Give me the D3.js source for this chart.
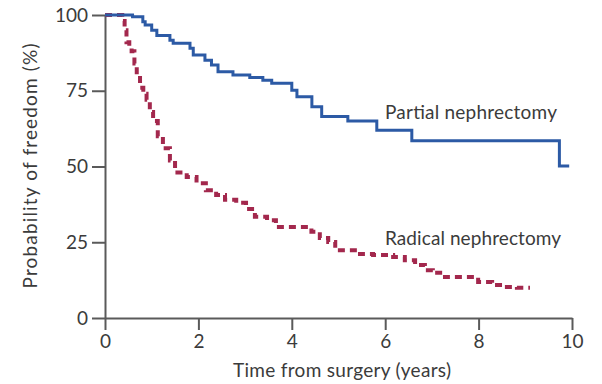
<!DOCTYPE html>
<html lang="en">
<head>
<meta charset="UTF-8">
<title>Freedom from CKD</title>
<script src="https://d3js.org/d3.v7.min.js"></script>
<style>
  body { margin: 0; background: #fff; }
  text { font-family: Lato, "Open Sans", sans-serif; fill: #3b3b3b; }
</style>
</head>
<body>
<script>
// Kaplan-Meier steps (years, %)
const partialTimes  = [0, 0.59, 0.81, 0.86, 1.00, 1.11, 1.39, 1.46, 1.82, 1.89, 2.14, 2.28, 2.42, 2.74, 3.10, 3.38, 3.57, 4.00, 4.11, 4.43, 4.64, 5.20, 5.82, 6.57, 9.73, 9.94];
const partialValues = [100, 99.4, 97.8, 96.7, 95.0, 93.2, 91.7, 90.7, 89.0, 86.8, 85.1, 83.5, 81.3, 80.2, 79.4, 78.5, 77.5, 75.2, 73.0, 69.7, 66.5, 65.0, 62.0, 58.5, 50.2, 50.2];

const radicalTimes  = [0, 0.37, 0.42, 0.46, 0.52, 0.57, 0.63, 0.68, 0.75, 0.82, 0.89, 0.96, 1.03, 1.13, 1.24, 1.39, 1.50, 1.75, 1.96, 2.16, 2.38, 2.57, 2.81, 3.02, 3.21, 3.47, 3.66, 4.42, 4.60, 4.78, 4.93, 5.46, 5.74, 6.17, 6.42, 6.64, 6.85, 7.02, 7.28, 7.99, 8.29, 8.52, 8.82, 9.10];
const radicalValues = [100, 98, 95, 91, 89.5, 88, 84, 80, 76, 74, 72, 68, 65, 60, 56, 52, 48, 46.5, 44.5, 42.2, 40.6, 39, 38, 36, 33.4, 32.3, 30, 28.5, 26.4, 25.1, 22.4, 21.1, 20.8, 20.1, 19.1, 17.5, 15.8, 14.9, 13.5, 11.9, 10.9, 10.2, 10.0, 10.0];

const xTicks = [0, 2, 4, 6, 8, 10];
const yTicks = [0, 25, 50, 75, 100];
const seriesLabels = ["Partial nephrectomy", "Radical nephrectomy"];

const w = 602, h = 384;
const svg = d3.select('body').append('svg').attr('width', w).attr('height', h);

const x = d3.scaleLinear().domain([0, 10]).range([105, 572]);
const y = d3.scaleLinear().domain([0, 100]).range([318, 15]);

// axes
const xAxis = svg.append('g').attr('transform', `translate(0,${y(0)})`)
  .call(d3.axisBottom(x).tickValues(xTicks).tickSize(12).tickSizeOuter(0).tickPadding(5));
const yAxis = svg.append('g').attr('transform', `translate(${x(0)},0)`)
  .call(d3.axisLeft(y).tickValues(yTicks).tickSize(13).tickSizeOuter(0).tickPadding(4));

[xAxis, yAxis].forEach(g => {
  g.selectAll('path, line').attr('stroke', '#5a5a5a').attr('stroke-width', 2);
  g.selectAll('text').style('font-size', '19px').attr('fill', '#3b3b3b')
    .style('font-family', 'Lato, sans-serif');
});

const line = d3.line().x(d => x(d[0])).y(d => y(d[1])).curve(d3.curveStepAfter);

const radical = d3.zip(radicalTimes, radicalValues);
const partial = d3.zip(partialTimes, partialValues);

svg.append('path').datum(radical)
  .attr('d', line).attr('fill', 'none')
  .attr('stroke', '#a3284d').attr('stroke-width', 4)
  .attr('stroke-dasharray', '7,5');

svg.append('path').datum(partial)
  .attr('d', line).attr('fill', 'none')
  .attr('stroke', '#2c5aa5').attr('stroke-width', 3);

// series labels
svg.append('text').attr('x', 385).attr('y', 119).style('font-size', '19px')
  .attr('textLength', 172).text(seriesLabels[0]);
svg.append('text').attr('x', 385).attr('y', 245).style('font-size', '19px')
  .attr('textLength', 176).text(seriesLabels[1]);

// axis titles
svg.append('text').attr('x', 342).attr('y', 377).attr('text-anchor', 'middle')
  .style('font-size', '19px').attr('textLength', 218).text('Time from surgery (years)');
svg.append('text').attr('transform', 'translate(37,166) rotate(-90)').attr('text-anchor', 'middle')
  .style('font-size', '19px').attr('textLength', 245).text('Probability of freedom (%)');
</script>
</body>
</html>
